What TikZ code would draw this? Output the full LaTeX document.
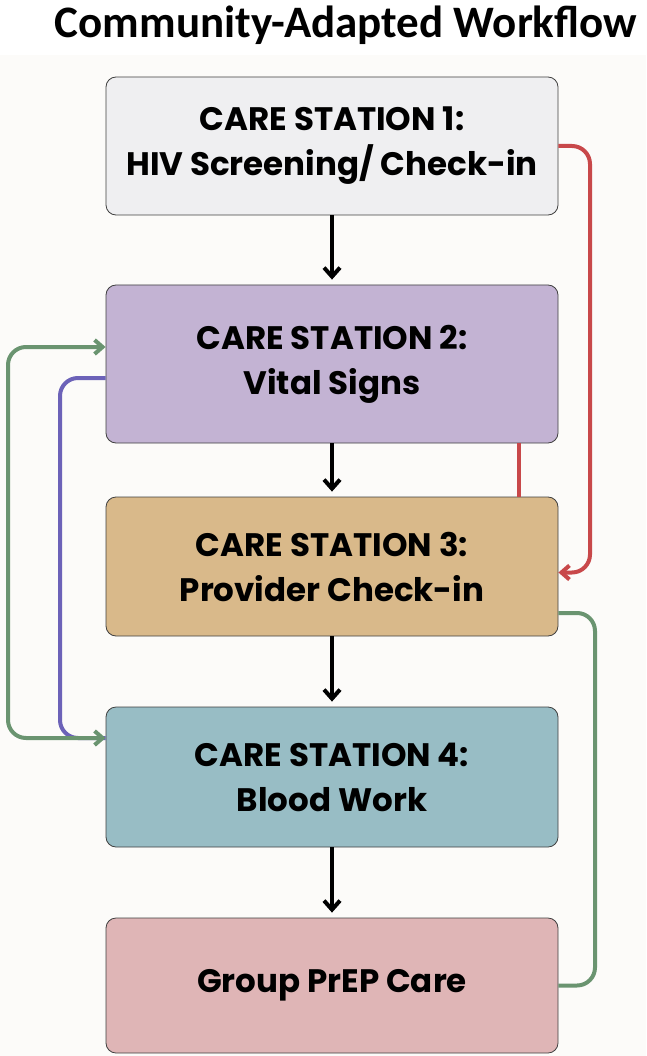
\documentclass[tikz,border=0pt]{standalone}
\usepackage{fontspec}
\setmainfont{Poppins}
\newfontfamily\titlefont{Carlito}
\usetikzlibrary{arrows.meta}
\definecolor{boxgrey}{HTML}{EFEFF1}
\definecolor{boxlilac}{HTML}{C3B3D3}
\definecolor{boxtan}{HTML}{D9B98A}
\definecolor{boxteal}{HTML}{98BDC5}
\definecolor{boxpink}{HTML}{DFB5B6}
\definecolor{linered}{HTML}{C8484A}
\definecolor{linegreen}{HTML}{6A9470}
\definecolor{linepurple}{HTML}{6C62B8}
\definecolor{paper}{HTML}{FCFBF9}
\tikzset{%
    station/.style={rectangle, rounded corners=10pt, draw=black!75, line width=0.8pt,
    	minimum width=452pt, align=center, font=\fontsize{32.5}{45}\selectfont\bfseries},
    flow/.style={line width=4pt, -{Straight Barb[length=9pt,width=16pt]}},
    loop/.style={line width=4pt, rounded corners=18pt},
    barb/.style={-{Straight Barb[length=8pt,width=14pt]}},
    twobarb/.style={{Straight Barb[length=8pt,width=14pt]}-{Straight Barb[length=8pt,width=14pt]}}
}
\begin{document}
\begin{tikzpicture}[x=1pt, y=-1pt]
  \useasboundingbox (0,0) rectangle (646,1056);
  \fill[paper] (0,55) rectangle (646,1056);
  \node (title) at (346,25) {\titlefont\bfseries\fontsize{45}{50}\selectfont Community-Adapted Workflow};

  \node (s1) [station, fill=boxgrey, minimum height=138pt] at (332,146) {CARE STATION 1:\\HIV Screening/ Check-in};
  \node (s2) [station, fill=boxlilac, minimum height=158pt] at (332,364) {CARE STATION 2:\\Vital Signs};
  \node (s3) [station, fill=boxtan, minimum height=139pt] at (332,566.5) {CARE STATION 3:\\Provider Check-in};
  \node (s4) [station, fill=boxteal, minimum height=140pt] at (332,777) {CARE STATION 4:\\Blood Work};
  \node (s5) [station, fill=boxpink, minimum height=135pt] at (332,985.5) {Group PrEP Care};

  \coordinate (r1) at (590,146);
  \coordinate (g1) at (8,347);
  \coordinate (u1) at (60,378);
  \coordinate (g2) at (595,613);
  \coordinate (in4) at ([yshift=39pt]s4.west);

  \draw[flow] (s1) -- ([yshift=5pt]s2.north);
  \draw[flow] (s2) -- ([yshift=5pt]s3.north);
  \draw[flow] (s3) -- ([yshift=5pt]s4.north);
  \draw[flow] (s4) -- ([yshift=5pt]s5.north);

  \draw[loop, linered, barb] (s1.east) -- (r1) |- ([yshift=-6pt]s3.east);
  \draw[loop, linered] ([xshift=187pt]s2.south) -- ([xshift=187pt]s3.north);
  \draw[loop, linepurple] ([yshift=-14pt]s2.west) -| (u1 |- in4) -- (in4);
  \draw[loop, linegreen, twobarb] ([yshift=17pt]s2.west) -| (g1 |- in4) -- (in4);
  \draw[loop, linegreen] ([yshift=-46.5pt]s3.east) -| (g2 |- s5.east) -- (s5.east);
\end{tikzpicture}
\end{document}
